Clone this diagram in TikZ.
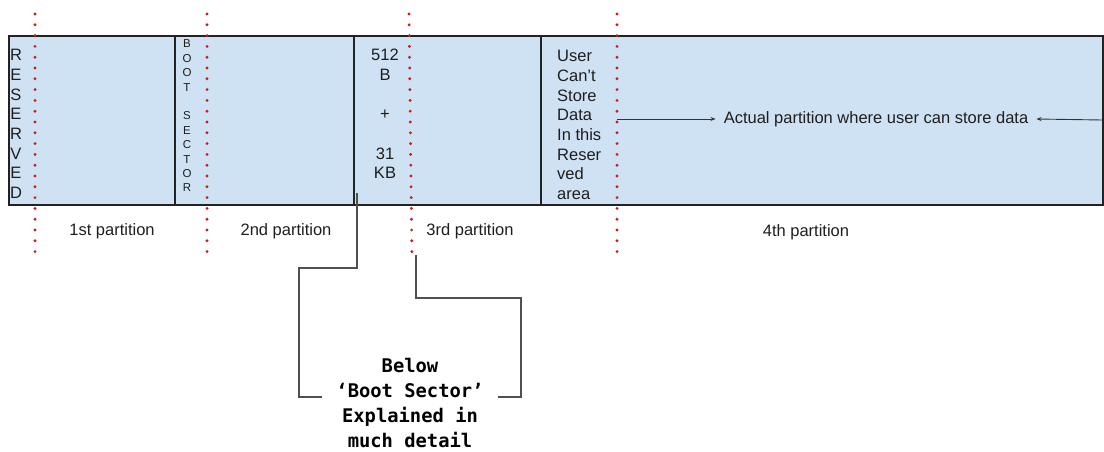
\documentclass[tikz,border=0pt]{standalone}
\usepackage{fontspec}
\setmainfont{Liberation Sans}
\newfontfamily\codefont{DejaVu Sans Mono}
\usetikzlibrary{arrows.meta}

\definecolor{diskfill}{HTML}{CFE2F3}
\definecolor{dotred}{HTML}{C41E1E}
\definecolor{edgeline}{HTML}{222222}
\definecolor{leadline}{HTML}{505050}
\definecolor{inktext}{HTML}{1E1E1E}

\begin{document}
\begin{tikzpicture}[x=1pt,y=-1pt,
  lbl/.style={font=\fontsize{16.5}{19.7}\selectfont, inner sep=0pt, text=inktext},
  small/.style={font=\fontsize{11.5}{14.4}\selectfont, inner sep=0pt, text=inktext},
  divider/.style={draw=edgeline, line width=1.6pt},
  partline/.style={draw=dotred, line width=3.2pt, line cap=round, dash pattern=on 0pt off 10.8pt},
  leader/.style={draw=leadline, line width=1.3pt},
  pointer/.style={draw=black!80, line width=0.9pt, -{Stealth[length=5pt,width=4pt]}},
  note/.style={font=\codefont\bfseries\fontsize{18.8}{25}\selectfont, align=center, inner sep=0pt, text=black}
]
\useasboundingbox (0,0) rectangle (1104,452);

% the disk strip
\node[draw=edgeline, line width=1.8pt, fill=diskfill, minimum width=1094pt,
      minimum height=169pt, inner sep=0pt, anchor=north west] (disk) at (8,35) {};

% region dividers
\draw[divider] (175,35) -- (175,204);
\draw[divider] (354,35) -- (354,204);
\draw[divider] (541,35) -- (541,204);

% partition boundaries
\draw[partline] (35,14) -- (35,262);
\draw[partline] (207,14) -- (207,262);
\draw[partline] (409,14) -- (412,262);
\draw[partline] (617,14) -- (617,262);

% texts inside the strip
\node[lbl, align=center] (reserved) at (16,124) {R\\E\\S\\E\\R\\V\\E\\D};
\node[small, align=center] (bootsec) at (187,116) {B\\O\\O\\T\\\mbox{}\\S\\E\\C\\T\\O\\R};
\node[lbl, align=center] (size) at (385,114) {512\\B\\\mbox{}\\+\\\mbox{}\\31\\KB};
\node[lbl, align=left, anchor=west] (noStore) at (557,125)
  {User\\Can’t\\Store\\Data\\In this\\Reser\\ved\\area};
\node[lbl, inner xsep=8pt] (act) at (876,119) {Actual partition where user can store data};

% pointers to the usable area
\coordinate (p4) at (617,119);
\coordinate (rim) at (1102,120);
\draw[pointer] (p4) -- (act.west);
\draw[pointer] (rim) -- (act.east);

% partition names
\node[lbl] (part1) at (112,231) {1st partition};
\node[lbl] (part2) at (286,231) {2nd partition};
\node[lbl] (part3) at (470,231) {3rd partition};
\node[lbl] (part4) at (806,232) {4th partition};

% explanation with its bracket
\node[note] (explain) at (410,403) {Below\\‘Boot Sector’\\Explained in\\much detail};
\coordinate (bsA) at (357,193);
\coordinate (bsB) at (322,397);
\coordinate (bsC) at (416,255);
\coordinate (bsD) at (498,397);
\draw[leader] (bsA) -- (357,268) -- (299,268) -- (299,397) -- (bsB);
\draw[leader] (bsC) -- (416,298) -- (521,298) -- (521,397) -- (bsD);
\end{tikzpicture}
\end{document}
